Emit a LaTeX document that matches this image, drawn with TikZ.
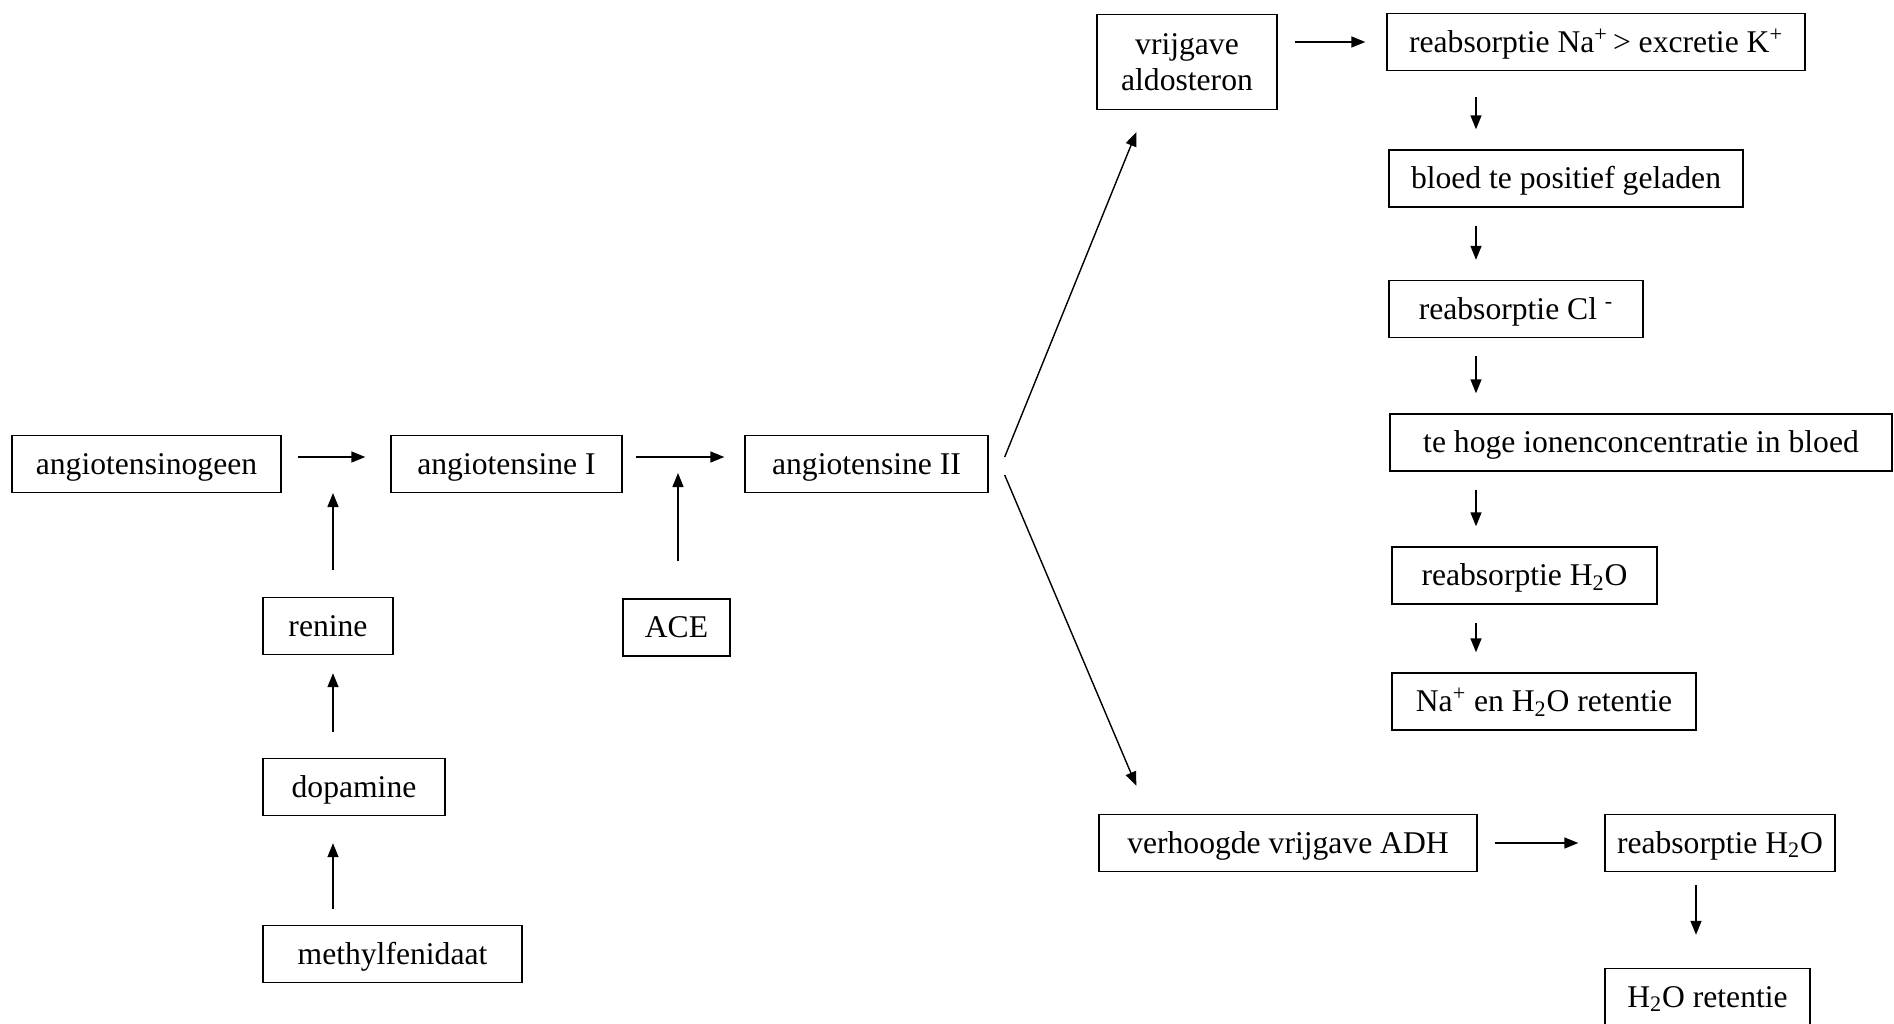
\documentclass[tikz,border=0pt]{standalone}
\usepackage{fontspec}
\setmainfont{Liberation Serif}
\usetikzlibrary{arrows.meta,calc}

\begin{document}
\begin{tikzpicture}[
  x=0.02cm, y=-0.02cm,
  >={Triangle[length=0.28cm,width=0.22cm]},
  blok/.style={draw, line width=0.8pt, minimum height=1.14cm, align=center, inner sep=0pt, font=\fontsize{18}{20.5}\selectfont},
  regel/.style={blok, text height=0.55cm, text depth=0.14cm},
  arr/.style={->, line width=0.8pt},
  neer/.style={arr, shorten <=0.36cm, shorten >=0.4cm},
]

\useasboundingbox (0,0) rectangle (1894,1024);

\node[regel, minimum width=5.38cm] (agen) at (146.5,464) {angiotensinogeen};
\node[regel, minimum width=4.62cm] (ang1) at (506.5,464) {angiotensine I};
\node[regel, minimum width=4.86cm] (ang2) at (866.5,464) {angiotensine II};
\node[regel, minimum width=2.6cm] (renine) at (328,626) {renine};
\node[regel, minimum width=2.14cm] (ace) at (676.5,627.5) {ACE};
\node[regel, minimum width=3.64cm] (dopa) at (354,787) {dopamine};
\node[regel, minimum width=5.18cm] (methyl) at (392.5,954) {methylfenidaat};

\node[blok, minimum width=3.6cm, minimum height=1.9cm, yshift=-0.03cm] (aldo) at (1187,60.5) {vrijgave\\aldosteron};
\node[regel, minimum width=8.36cm] (nak) at (1596,42) {reabsorptie Na\textsuperscript{+}\,> excretie K\textsuperscript{+}};
\node[regel, minimum width=7.08cm] (bloed) at (1566,178.5) {bloed te positief geladen};
\node[regel, minimum width=5.08cm] (cl) at (1516,309) {reabsorptie Cl \textsuperscript{-}};
\node[regel, minimum width=10.04cm] (hoog) at (1641,442.5) {te hoge ionenconcentratie in bloed};
\node[regel, minimum width=5.3cm] (watera) at (1524.5,575.5) {reabsorptie H\textsubscript{2}O};
\node[regel, minimum width=6.08cm] (naret) at (1544,701.5) {Na\textsuperscript{+} en H\textsubscript{2}O retentie};

\node[regel, minimum width=7.56cm] (adh) at (1288,843) {verhoogde vrijgave ADH};
\node[regel, minimum width=4.6cm] (waterb) at (1720,843) {reabsorptie H\textsubscript{2}O};
\node[regel, minimum width=4.1cm] (waterret) at (1707.5,997) {H\textsubscript{2}O retentie};

\coordinate (rentip) at (333,493);
\coordinate (acetip) at (678,473);
\coordinate (kol) at (1476,0);
\coordinate (kolb) at (1696,0);

\draw[arr, shorten <=0.32cm, shorten >=0.5cm] ([yshift=0.14cm]agen.east) -- ([yshift=0.14cm]ang1.west);
\draw[arr, shorten <=0.26cm, shorten >=0.4cm] ([yshift=0.14cm]ang1.east) -- ([yshift=0.14cm]ang2.west);
\draw[arr, shorten <=0.54cm] (renine.north -| rentip) -- (rentip);
\draw[arr, shorten <=0.74cm] (ace.north -| acetip) -- (acetip);
\draw[arr, shorten <=0.52cm, shorten >=0.36cm] (dopa.north -| rentip) -- (renine.south -| rentip);
\draw[arr, shorten <=0.32cm, shorten >=0.54cm] (methyl.north -| rentip) -- (dopa.south -| rentip);

\draw[arr] ($(ang2.east)+(0.32cm,0.14cm)$) -- ($(aldo.south west)+(0.8cm,-0.44cm)$);
\draw[arr] ($(ang2.east)+(0.32cm,-0.22cm)$) -- ($(adh.north west)+(0.76cm,0.56cm)$);

\draw[arr, shorten <=0.34cm, shorten >=0.42cm] (aldo.east |- nak.west) -- (nak.west);
\draw[neer, shorten <=0.52cm] (nak.south -| kol) -- (bloed.north -| kol);
\draw[neer] (bloed.south -| kol) -- (cl.north -| kol);
\draw[neer] (cl.south -| kol) -- (hoog.north -| kol);
\draw[neer] (hoog.south -| kol) -- (watera.north -| kol);
\draw[neer] (watera.south -| kol) -- (naret.north -| kol);

\draw[arr, shorten <=0.34cm, shorten >=0.52cm] (adh.east) -- (waterb.west);
\draw[arr, shorten <=0.26cm, shorten >=0.66cm] (waterb.south -| kolb) -- (waterret.north -| kolb);

\end{tikzpicture}
\end{document}
